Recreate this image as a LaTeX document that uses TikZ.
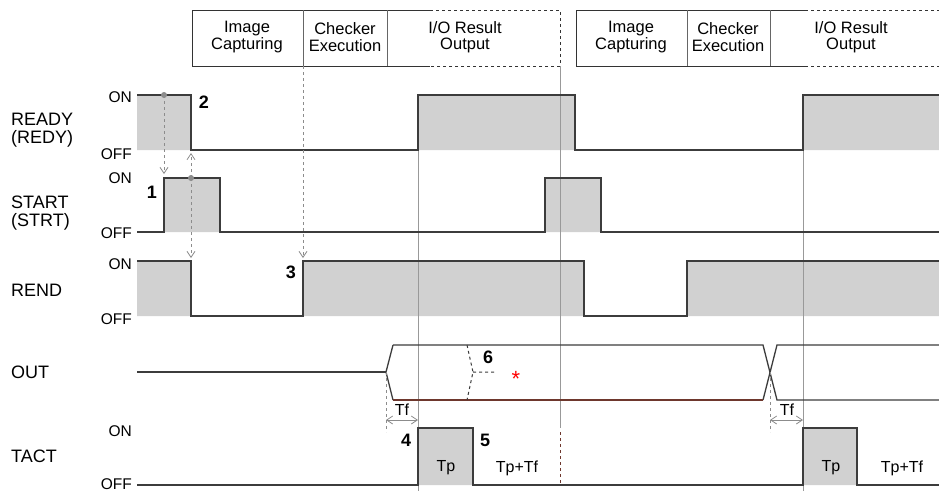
\documentclass[tikz,border=0pt]{standalone}
\usepackage{fontspec}
\setmainfont{Liberation Sans}
\usetikzlibrary{arrows.meta,positioning}
\definecolor{wavegray}{RGB}{60,60,60}
\definecolor{rustline}{RGB}{110,55,45}

\begin{document}
\begin{tikzpicture}[x=1pt, y=-1pt, >={Straight Barb[length=6pt,width=8pt]},
    wave/.style={draw=wavegray, line width=1.3pt},
    high/.style={fill=black!18},
    guide/.style={draw=black!40, line width=0.8pt},
    hint/.style={draw=black!45, dashed, line width=0.8pt},
    signame/.style={font=\fontsize{18}{18}\selectfont, align=left, anchor=west, inner sep=0pt},
    level/.style={font=\fontsize{15.5}{15}\selectfont, anchor=east, inner sep=1pt},
    num/.style={font=\bfseries\fontsize{18}{18}\selectfont, inner sep=1pt},
    phase/.style={font=\fontsize{16.5}{16.5}\selectfont, align=center, inner sep=0pt},
    small/.style={font=\fontsize{16}{16}\selectfont, inner sep=1pt}]
    \useasboundingbox[fill=white] (0,0) rectangle (939,491);

    % phase header
    \draw[line width=0.8pt, draw=black!80] (430,10) -- (192,10) -- (192,66) -- (430,66);
    \draw[line width=0.8pt, draw=black!80, dashed] (430,10) -- (560,10) -- (560,66) -- (430,66);
    \draw[line width=0.8pt, draw=black!60] (303,10) -- (303,66) (387,10) -- (387,66);
    \draw[line width=0.8pt, draw=black!80] (805,10) -- (576,10) -- (576,66) -- (805,66);
    \draw[line width=0.8pt, draw=black!80, dashed] (805,10) -- (939,10) (805,66) -- (939,66);
    \draw[line width=0.8pt, draw=black!60] (687,10) -- (687,66) (770,10) -- (770,66);
    \node[phase] (cap1) at (247,37) {Image\\Capturing};
    \node[phase] (exe1) at (345,37) {Checker\\Execution};
    \node[phase] (res1) at (465,37) {I/O Result\\Output};
    \node[phase] (cap2) at (631,37) {Image\\Capturing};
    \node[phase] (exe2) at (728,37) {Checker\\Execution};
    \node[phase] (res2) at (851,37) {I/O Result\\Output};

    % signal names
    \node[signame] (ready) at (11,130) {READY\\(REDY)};
    \node[signame] (start) at (11,213) {START\\(STRT)};
    \node[signame] (rend) at (11,290) {REND};
    \node[signame] (out) at (11,372) {OUT};
    \node[signame] (tact) at (11,456) {TACT};

    \node[level] (readyon) at (133,97) {ON};
    \node[level] (readyoff) at (133,154) {OFF};
    \node[level] (starton) at (133,178) {ON};
    \node[level] (startoff) at (133,233) {OFF};
    \node[level] (rendon) at (133,264) {ON};
    \node[level] (rendoff) at (133,319) {OFF};
    \node[level] (tacton) at (133,431) {ON};
    \node[level] (tactoff) at (133,484) {OFF};

    % high levels
    \fill[high] (137,95) rectangle (191,150) (418,95) rectangle (575,150) (803,95) rectangle (939,150);
    \fill[high] (164,178) rectangle (220,232) (545,178) rectangle (601,232);
    \fill[high] (137,261) rectangle (191,316) (303,261) rectangle (584,316) (687,261) rectangle (939,316);
    \fill[high] (418,428) rectangle (473,485) (803,428) rectangle (857,485);

    % guides
    \draw[guide] (418,95) -- (418,491);
    \draw[guide] (560,66) -- (560,428);
    \draw[guide] (803,95) -- (803,491);
    \draw[draw=rustline, dashed, line width=1pt] (560,432) -- (560,485);

    % waveforms
    \draw[wave] (137,95) -- (191,95) -- (191,150) -- (418,150) -- (418,95) -- (575,95) -- (575,150) -- (803,150) -- (803,95) -- (939,95);
    \draw[wave] (137,232) -- (164,232) -- (164,178) -- (220,178) -- (220,232) -- (545,232) -- (545,178) -- (601,178) -- (601,232) -- (939,232);
    \draw[wave] (137,261) -- (191,261) -- (191,316) -- (303,316) -- (303,261) -- (584,261) -- (584,316) -- (687,316) -- (687,261) -- (939,261);
    \draw[wave] (137,485) -- (418,485) -- (418,428) -- (473,428) -- (473,485) -- (803,485) -- (803,428) -- (857,428) -- (857,485) -- (939,485);
    \draw[wave] (137,372) -- (386,372);
    \draw[wave] (393,345) -- (386,372) -- (393,400);
    \draw[wave] (393,345) -- (763,345) -- (777,400) -- (939,400);
    \draw[wave] (763,400) -- (777,345) -- (939,345);
    \draw[wave, draw=rustline] (393,400) -- (763,400);

    % handshake hints
    \coordinate (readydot) at (164,95);
    \coordinate (startdot) at (191,178);
    \fill[black!45] (readydot) circle (3);
    \fill[black!45] (startdot) circle (3);
    \draw[hint, ->] (readydot) -- (164,174);
    \draw[hint, ->] (startdot) -- (191,153);
    \draw[hint, ->] (startdot) -- (191,258);
    \draw[hint, ->] (303,66) -- (303,258);

    % output change marker
    \draw[dashed, line width=1pt, draw=wavegray] (467,345) -- (473,372) -- (467,400) (473,372) -- (494,372);
    \node[num] (n6) at (488,357) {6};
    \node[text=red, font=\fontsize{22}{22}\selectfont] (mark) at (516,379) {*};

    % fall times
    \draw[hint] (386,372) -- (386,432);
    \draw[hint] (770,372) -- (770,432);
    \draw[draw=black!45, line width=0.8pt, <->] (386,420) -- (418,420);
    \draw[draw=black!45, line width=0.8pt, <->] (770,420) -- (803,420);
    \node[small] (tf1) at (402,410) {Tf};
    \node[small] (tf2) at (787,410) {Tf};

    \node[num] (n1) at (152,192) {1};
    \node[num] (n2) at (204,102) {2};
    \node[num] (n3) at (291,272) {3};
    \node[num] (n4) at (406,440) {4};
    \node[num] (n5) at (485,440) {5};

    \node[small] (tp1) at (446,468) {Tp};
    \node[small] (tptf1) at (517,468) {Tp+Tf};
    \node[small] (tp2) at (831,468) {Tp};
    \node[small] (tptf2) at (902,468) {Tp+Tf};
\end{tikzpicture}
\end{document}
